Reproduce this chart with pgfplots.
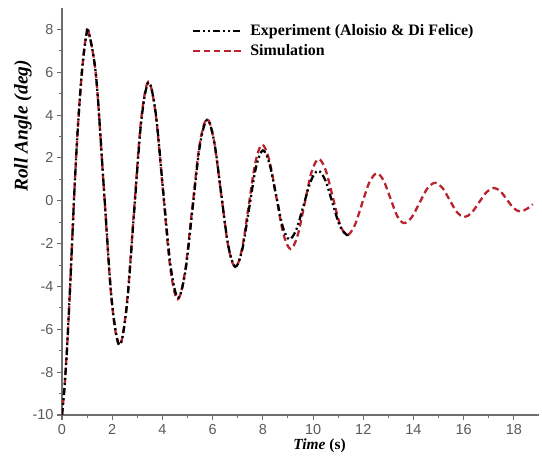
\documentclass[border=0pt]{standalone}
\usepackage{pgfplots}
\pgfplotsset{compat=1.18}
\usepackage{fontspec}
\setmainfont{Liberation Serif}
\newfontfamily\ticksans{Liberation Sans}

\definecolor{axisgray}{RGB}{110,110,110}
\definecolor{tickgray}{RGB}{90,90,90}
\definecolor{simred}{RGB}{185,35,45}

\begin{document}
\begin{tikzpicture}
\begin{axis}[
  name=ax,
  scale only axis,
  width=477bp, height=407bp,
  xmin=0, xmax=19, ymin=-10, ymax=9,
  axis lines=left,
  axis line style={-, draw=axisgray, line width=1.4bp},
  xtick={0,2,...,18}, ytick={-10,-8,...,8},
  minor x tick num=1, minor y tick num=1,
  tick align=outside,
  major tick length=5bp, minor tick length=3bp,
  every tick/.style={draw=axisgray, line width=1.1bp},
  /pgf/number format/assume math mode=true,
  tick label style={font=\fontsize{14.5}{16}\selectfont\ticksans, text=tickgray},
  xticklabel style={yshift=-1bp},
  xlabel={\textbf{\textit{Time} (s)}},
  xlabel style={font=\fontsize{15.5}{18}\selectfont, at={(axis description cs:0.54,-0.076)}, anchor=center},
  ylabel={\textbf{\textit{Roll Angle (deg)}}},
  ylabel style={font=\fontsize{19.5}{22}\selectfont, at={(axis description cs:-0.082,0.71)}, anchor=center, rotate=0},
  legend style={draw=none, fill=none, at={(axis description cs:0.266,0.97)}, anchor=north west,
    font=\fontsize{16}{18}\selectfont\bfseries, row sep=3.5bp},
  legend cell align=left,
  legend image code/.code={\draw[#1] (0bp,0bp) -- (48bp,0bp); \path (54bp,0bp);},
  reverse legend,
]
% Simulation
\addplot[simred, line width=2.3bp, dash pattern=on 6.5bp off 3.8bp, smooth, tension=0.55] coordinates {
(0.00,-10.0) (0.10,-8.7) (0.20,-6.9) (0.30,-4.6) (0.40,-2.0) (0.50,0.6) (0.60,2.8)
(0.70,4.6) (0.80,6.1) (0.90,7.2) (0.98,7.8) (1.05,7.95)
(1.3575,5.80) (1.665,0.60) (1.9725,-4.60) (2.28,-6.75)
(2.57,-4.95) (2.86,-0.60) (3.15,3.76) (3.44,5.56)
(3.73,4.07) (4.02,0.48) (4.31,-3.11) (4.60,-4.60)
(4.8925,-3.37) (5.185,-0.39) (5.4775,2.59) (5.77,3.82)
(6.0525,2.81) (6.335,0.36) (6.6175,-2.09) (6.90,-3.10)
(7.1675,-2.26) (7.435,-0.24) (7.7025,1.78) (7.97,2.62)
(8.2525,1.91) (8.535,0.19) (8.8175,-1.54) (9.10,-2.25)
(9.38,-1.64) (9.66,-0.15) (9.94,1.34) (10.22,1.95)
(10.5025,1.43) (10.785,0.18) (11.0675,-1.08) (11.35,-1.60)
(11.6475,-1.18) (11.945,-0.16) (12.2425,0.86) (12.54,1.28)
(12.81,0.94) (13.08,0.12) (13.35,-0.70) (13.62,-1.04)
(13.93,-0.77) (14.24,-0.10) (14.55,0.57) (14.86,0.84)
(15.15,0.61) (15.44,0.04) (15.73,-0.53) (16.02,-0.76)
(16.315,-0.56) (16.61,-0.08) (16.905,0.40) (17.20,0.60)
(17.4625,0.44) (17.725,0.05) (17.9875,-0.34) (18.25,-0.50)
(18.54,-0.36) (18.75,-0.16)
};
\addlegendentry{Simulation}
% Experiment (Aloisio & Di Felice)
\addplot[black, line width=2.3bp, dash pattern=on 7bp off 3bp on 2bp off 3bp on 2bp off 3bp, smooth, tension=0.55] coordinates {
(0.00,-10.0) (0.10,-8.7) (0.20,-6.9) (0.30,-4.6) (0.40,-2.0) (0.50,0.6) (0.60,2.8)
(0.70,4.6) (0.80,6.1) (0.90,7.2) (0.98,7.8) (1.05,7.95)
(1.36,5.78) (1.67,0.55) (1.98,-4.62) (2.29,-6.72)
(2.58,-4.93) (2.87,-0.58) (3.16,3.74) (3.45,5.52)
(3.74,4.02) (4.03,0.46) (4.33,-3.08) (4.62,-4.52)
(4.91,-3.33) (5.20,-0.37) (5.49,2.56) (5.78,3.78)
(6.06,2.78) (6.34,0.34) (6.62,-2.08) (6.90,-3.08)
(7.175,-2.30) (7.45,-0.38) (7.725,1.55) (8.00,2.35)
(8.2625,1.74) (8.525,0.28) (8.7875,-1.19) (9.05,-1.80)
(9.3375,-1.33) (9.625,-0.20) (9.9125,0.93) (10.20,1.40)
(10.4875,0.96) (10.775,-0.10) (11.0625,-1.16) (11.35,-1.60)
(11.45,-1.52)
};
\addlegendentry{Experiment (Aloisio \& Di Felice)}
\end{axis}
\pgfresetboundingbox
\path[use as bounding box] ([xshift=-62bp,yshift=-49bp]ax.south west) rectangle ([xshift=3bp,yshift=8bp]ax.north east);
\end{tikzpicture}
\end{document}
